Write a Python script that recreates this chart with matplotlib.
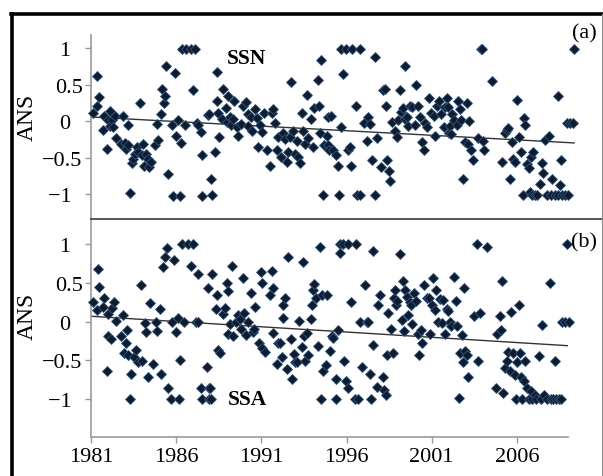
import matplotlib.pyplot as plt
from matplotlib.lines import Line2D

plt.rcParams["font.family"] = ["Liberation Serif", "DejaVu Serif"]

W, H = 603, 477

# --- panel (a): SSN, ANS values ---
year_a = [
    1981.13, 1981.33, 1981.36, 1981.46, 1981.71, 1981.77, 1981.91, 1981.96, 1982.10, 1982.10,
    1982.20, 1982.30, 1982.39, 1982.45, 1982.74, 1982.87, 1982.97, 1983.03, 1983.16, 1983.16,
    1983.26, 1983.36, 1983.45, 1983.55, 1983.65, 1983.74, 1983.84, 1983.93, 1984.03, 1984.09,
    1984.19, 1984.28, 1984.38, 1984.48, 1984.71, 1984.84, 1984.90, 1985.06, 1985.13, 1985.23,
    1985.29, 1985.35, 1985.48, 1985.67, 1985.77, 1985.87, 1985.93, 1986.06, 1986.16, 1986.22,
    1986.25, 1986.45, 1986.50, 1986.80, 1986.93, 1987.03, 1987.12, 1987.22, 1987.37, 1987.41,
    1987.41, 1987.80,
    1987.84, 1987.96, 1988.00, 1988.19, 1988.29, 1988.29, 1988.38, 1988.42, 1988.58, 1988.67,
    1988.81, 1988.87, 1988.96, 1989.06, 1989.12, 1989.25, 1989.31, 1989.45, 1989.50, 1989.70,
    1989.83, 1989.97, 1990.08, 1990.12, 1990.26, 1990.32, 1990.51, 1990.60, 1990.70, 1990.80,
    1990.93, 1991.05, 1991.18, 1991.38, 1991.47, 1991.57, 1991.67, 1991.77, 1991.86, 1992.02,
    1992.15, 1992.25, 1992.34, 1992.44, 1992.54, 1992.60, 1992.69, 1992.83, 1992.92, 1993.02,
    1993.12, 1993.21, 1993.31, 1993.41, 1993.50, 1993.60, 1993.75, 1993.89, 1993.95, 1994.14,
    1994.22, 1994.28, 1994.33, 1994.47, 1994.53, 1994.66, 1994.76,
    1994.72, 1994.80, 1994.92, 1995.05, 1995.21, 1995.34, 1995.38, 1995.50, 1995.50, 1995.63,
    1995.77, 1995.92, 1996.02, 1996.08, 1996.15, 1996.35, 1996.41, 1996.60, 1996.60, 1996.85,
    1997.00, 1997.04, 1997.18, 1997.31, 1997.47, 1997.47, 1997.56, 1997.82, 1997.95, 1998.05,
    1998.09, 1998.15, 1998.28, 1998.34, 1998.43, 1998.63, 1998.72, 1998.78, 1998.92, 1998.98,
    1999.11, 1999.17, 1999.21, 1999.30, 1999.40, 1999.50, 1999.63, 1999.75, 1999.83, 1999.98,
    2000.08, 2000.17, 2000.27, 2000.37, 2000.46, 2000.60, 2000.72, 2000.85, 2000.91, 2001.04,
    2001.18, 2001.30, 2001.43, 2001.53, 2001.62, 2001.72,
    2001.67, 2001.81, 2001.87, 2001.90, 2002.06, 2002.20, 2002.29, 2002.39, 2002.45, 2002.58,
    2002.68, 2002.78, 2002.87, 2002.91, 2003.03, 2003.16, 2003.45, 2003.61, 2003.68, 2003.74,
    2003.80, 2004.23, 2004.84, 2005.00, 2005.10, 2005.19, 2005.29, 2005.38, 2005.48, 2005.58,
    2005.67, 2005.81, 2005.93, 2006.06, 2006.10, 2006.16, 2006.25, 2006.39, 2006.45, 2006.50,
    2006.58, 2006.64, 2006.74, 2006.83, 2007.03, 2007.12, 2007.22, 2007.32, 2007.41, 2007.55,
    2007.66, 2007.70, 2007.90, 2008.05, 2008.09, 2008.19, 2008.24, 2008.28, 2008.48, 2008.63,
    2008.57, 2008.77, 2008.96, 2009.02,
]
ans_a = [
    0.11, 0.20, 0.61, 0.33, -0.12, 0.07, -0.38, 0.02, 0.14, -0.07,
    0.01, -0.08, 0.07, -0.23, -0.32, 0.07, -0.30, -0.39, -0.05, -0.33,
    -0.98, -0.58, -0.52, -0.45, -0.36, -0.42, 0.25, -0.47, -0.31, -0.62,
    -0.45, -0.52, -0.63, -0.56, -0.33, -0.04, -0.26, 0.09, 0.44, 0.24,
    0.34, 0.76, -0.72, -0.05, -1.03, 0.66, -0.21, 0.02, -1.03, -0.30,
    0.99, -0.05, 0.99, 0.99, 0.43, 0.99, -0.03, -0.05, -0.15, -0.47,
    -1.03, 0.08,
    0.09, -0.80, -1.02, -0.43, 0.67, 0.28, 0.11, -0.22, 0.03, 0.44,
    0.18, -0.01, 0.34, 0.055, -0.06, 0.03, 0.28, -0.08, -0.20, -0.04,
    0.21, 0.26, 0.09, -0.07, 0.055, -0.14, 0.16, 0.045, -0.35, -0.05,
    -0.15, 0.11, -0.40, -0.62, 0.11, 0.17, -0.03, -0.40, -0.22, -0.49,
    -0.17, -0.24, -0.56, -0.42, -0.22, 0.54, -0.13, -0.45, -0.27, -0.49,
    -0.58, 0.11, -0.13, -0.31, 0.35, -0.23, 0.03, -0.36, 0.18, 0.56,
    0.21, -0.17, 0.84, -1.02, -0.33, -0.20, 0.055,
    -0.33, -0.40, 0.065, -0.40, -0.46, -0.61, -1.02, 0.99, -0.08, 0.64,
    0.99, -0.40, -0.36, -0.62, 0.99, 0.21, -1.02, -1.02, 0.99, -0.03,
    -0.27, 0.055, -0.04, -0.53, -1.02, 0.87, -0.23, -0.63, 0.42, 0.44,
    0.20, -0.53, -0.68, -0.82, -0.01, -0.13, -0.22, 0.01, 0.42, 0.12,
    0.18, 0.75, 0.03, 0.055, -0.07, 0.20, 0.19, -0.06, 0.49, 0.20,
    0.055, -0.29, -0.40, -0.03, -0.08, 0.31, 0.11, 0.065, -0.20, 0.21,
    0.28, 0.10, -0.08, 0.19, 0.31, -0.17,
    0.19, -0.07, -0.18, 0.10, 0.01, -0.06, 0.28, 0.17, 0.02, -0.80,
    -0.29, 0.24, -0.32, 0.00, -0.40, -0.53, -0.23, 0.99, 0.99, -0.27,
    -0.40, 0.55, -0.56, -0.17, -0.12, -0.10, -0.80, -0.29, -0.52, -0.56,
    0.29, -0.22, -0.42, -1.02, 0.045, -0.06, -0.59, -0.65, -0.97, -0.49,
    -1.02, -0.42, -1.02, -1.02, -0.86, -0.58, -0.71, -0.26, -1.02, -0.20,
    -1.02, -0.80, -1.02, 0.34, -1.02, -0.88, -0.53, -1.02, -1.02, -1.02,
    -0.03, -0.03, -0.03, 0.99,
]
trend_a = [0.055, -0.30]

# --- panel (b): SSA ---
year_b = [
    1981.14, 1981.33, 1981.39, 1981.47, 1981.72, 1981.78, 1981.92, 1981.98, 1982.02, 1982.17,
    1982.25, 1982.37, 1982.45, 1982.76, 1982.86, 1982.96, 1983.05, 1983.09, 1983.19, 1983.29,
    1983.35, 1983.54, 1983.64, 1983.74, 1983.91, 1984.01, 1984.17, 1984.21, 1984.33, 1984.46,
    1984.66, 1984.80, 1984.85, 1985.05, 1985.11, 1985.25, 1985.34, 1985.44, 1985.50, 1985.70,
    1985.77, 1985.89, 1985.97, 1986.12, 1986.16, 1986.22, 1986.32, 1986.48, 1986.71, 1986.87,
    1987.01, 1987.14, 1987.26, 1987.30, 1987.46, 1987.49, 1987.80, 1987.92, 1987.92,
    1987.89, 1987.98, 1988.04, 1988.10, 1988.32, 1988.37, 1988.47, 1988.57, 1988.77, 1988.86,
    1988.96, 1989.02, 1989.06, 1989.16, 1989.25, 1989.35, 1989.49, 1989.61, 1989.74, 1989.80,
    1989.94, 1990.00, 1990.08, 1990.19, 1990.39, 1990.53, 1990.59, 1990.62, 1990.86, 1990.98,
    1991.05, 1991.05, 1991.21, 1991.50, 1991.60, 1991.70, 1991.70, 1991.90, 1992.00, 1992.09,
    1992.19, 1992.29, 1992.29, 1992.38, 1992.48, 1992.54, 1992.74, 1992.81, 1992.93, 1992.97,
    1993.07, 1993.21, 1993.36, 1993.46, 1993.52, 1993.56, 1993.66, 1993.75, 1993.91, 1993.95,
    1994.05, 1994.11, 1994.18, 1994.30, 1994.44, 1994.50, 1994.58, 1994.63, 1994.83, 1994.77,
    1995.02, 1995.12, 1995.22, 1995.36, 1995.41, 1995.47, 1995.61, 1995.61, 1995.81, 1995.86,
    1995.99, 1996.06, 1996.10, 1996.29, 1996.49, 1996.53, 1996.69, 1996.78, 1996.92, 1997.08,
    1997.18, 1997.27, 1997.37, 1997.43, 1997.57, 1997.57, 1997.76, 1997.86, 1997.96, 1998.15,
    1998.21, 1998.29, 1998.35, 1998.45, 1998.60, 1998.74, 1998.80, 1998.84, 1998.88, 1998.99,
    1999.13, 1999.27, 1999.33, 1999.39, 1999.46, 1999.52, 1999.62, 1999.72, 1999.78, 1999.86,
    1999.97, 2000.05, 2000.17, 2000.27, 2000.40, 2000.44, 2000.56, 2000.70, 2000.83, 2000.89,
    2000.99, 2001.09, 2001.19, 2001.28, 2001.38, 2001.48, 2001.58, 2001.67, 2001.77, 2001.87,
    2001.97, 2002.06, 2002.16, 2002.32, 2002.45, 2002.51, 2002.59, 2002.65, 2002.75, 2002.85,
    2002.90, 2002.98, 2003.10, 2003.14, 2003.49, 2003.63, 2003.73, 2003.82, 2004.22, 2004.80,
    2004.86, 2004.99, 2005.06, 2005.13, 2005.19, 2005.29, 2005.39, 2005.49, 2005.58, 2005.64,
    2005.78, 2005.88, 2005.92, 2005.98, 2006.11, 2006.17, 2006.23, 2006.31, 2006.43, 2006.50,
    2006.62, 2006.70, 2006.82, 2006.90, 2007.05, 2007.15, 2007.29, 2007.44, 2007.48, 2007.60,
    2007.74, 2007.93, 2008.00, 2008.13, 2008.26, 2008.32, 2008.46, 2008.58, 2008.62, 2008.81,
    2008.97, 2009.05,
]
ans_b = [
    0.26, 0.15, 0.68, 0.45, 0.19, 0.31, -0.64, 0.10, -0.18, -0.22,
    0.18, 0.26, 0.01, -0.19, 0.09, -0.41, -0.28, -0.11, -0.43, -1.00,
    -0.68, -0.46, -0.37, -0.52, 0.47, -0.51, -0.02, -0.13, -0.71, 0.24,
    -0.55, -0.01, -0.12, 0.17, -0.67, 0.70, 0.84, 0.95, -0.85, -1.00,
    -0.01, 0.80, -0.13, 0.05, -1.00, -0.49, 1.00, -0.01, 1.00, 0.72,
    1.00, -0.01, -0.01, 0.62, -0.85, -1.00, -0.59, -0.85, -1.00,
    0.43, -0.86, -1.00, 0.62, 0.17, 0.34, -0.37, -0.41, 0.10, 0.18,
    0.50, -0.16, 0.40, -0.03, 0.72, -0.19, -0.01, 0.09, 0.04, -0.09,
    0.56, 0.11, -0.17, 0.00, 0.37, -0.13, -0.09, 0.19, -0.28, 0.64,
    -0.34, 0.50, -0.39, 0.34, 0.65, -0.15, 0.43, -0.54, -0.28, -0.27,
    -0.46, 0.05, 0.22, 0.30, -0.61, 0.84, -0.22, -0.74, -0.42, -0.52,
    -0.52, 0.01, -0.33, 0.77, -0.19, -0.51, -0.15, -0.43, 0.03, 0.22,
    0.41, 0.48, 0.30, -0.32, 0.96, -1.00, 0.34, -0.64, 0.34, -0.56,
    -0.38, -0.19, -0.21, -0.74, -1.00, -0.11, 1.00, 0.88, 1.00, -0.51,
    -0.77, -0.86, 1.00, 0.26, -1.00, 1.00, -1.00, -0.01, -0.59, 0.47,
    -0.01, -0.01, -0.67, -1.00, -0.30, 0.91, -0.84, 0.21, 0.35, -0.72,
    -0.88, -0.94, -0.43, 0.11, -0.09, -0.41, 0.31, 0.41, 0.21, 0.27,
    0.87, 0.02, 0.52, -0.12, 0.41, 0.32, 0.08, 0.26, 0.22, -0.03,
    0.37, 0.27, -0.16, -0.43, -0.11, -0.28, 0.47, 0.30, 0.31, -0.16,
    0.22, 0.56, 0.15, 0.41, 0.00, 0.29, -0.02, 0.28, -0.16, 0.16,
    0.14, 0.00, -0.05, 0.58, 0.27, -0.06, -0.99, -0.41, -0.17, -0.52,
    0.43, -0.38, -0.43, -0.71, 0.07, 1.00, -0.51, 0.11, 0.96, -0.86,
    -0.16, 0.07, -0.11, 0.53, -0.92, -0.60, -0.51, -0.39, -0.64, 0.13,
    -0.41, -0.69, -1.00, -0.52, 0.22, -0.41, -0.71, -1.00, -0.77, -0.51,
    -0.86, -1.00, -0.90, -1.00, -0.94, -1.00, -0.44, -1.00, -0.04, -0.94,
    -1.00, 0.50, -1.00, -1.00, -0.51, -1.00, -1.00, -1.00, -0.01, -0.01,
    1.00, -0.01,
]
trend_b = [0.07, -0.31]

trend_years = [1981, 2009]
xticks = [1981, 1986, 1991, 1996, 2001, 2006]
yticks = [-1, -0.5, 0, 0.5, 1]
ytick_labels = ["\u22121\u2007", "\u22120.5", "0\u2007", "0.5", "1\u2007"]

MARK = "#0e1c30"
EDGE = "#34557d"
SPINE = "#9a9a9a"


def style_axis(ax, ylim, xlim):
    ax.set_xlim(*xlim)
    ax.set_ylim(*ylim)
    for side in ["top", "right", "bottom"]:
        ax.spines[side].set_visible(False)
    ax.spines["left"].set_color(SPINE)
    ax.spines["left"].set_linewidth(1.2)
    ax.set_yticks(yticks)
    ax.set_yticklabels(ytick_labels)
    ax.tick_params(axis="y", direction="out", length=4.5, width=1.0, color=SPINE,
                   labelsize=16, pad=1.5)
    ax.patch.set_alpha(0)


def draw_panel(ax, years, ans, trend):
    ax.plot(trend_years, trend, color="#333333", linewidth=1.0, zorder=2)
    ax.plot(years, ans, linestyle="none", marker="D", markersize=5.0,
            markerfacecolor=MARK, markeredgecolor=EDGE, markeredgewidth=0.6,
            clip_on=False, zorder=3)


fig = plt.figure(figsize=(W / 100, H / 100), dpi=100)

ax_a = fig.add_axes([91 / W, 1 - 220 / H, (575 - 91) / W, (220 - 36) / H])
style_axis(ax_a, (-1.342, 1.178), (1981, 2009.05))
ax_a.set_xticks([])
draw_panel(ax_a, year_a, ans_a, trend_a)

ax_b = fig.add_axes([91 / W, 1 - 438 / H, (568 - 91) / W, (438 - 220) / H])
style_axis(ax_b, (-1.488, 1.325), (1981, 2009.0))
ax_b.spines["bottom"].set_visible(True)
ax_b.spines["bottom"].set_color(SPINE)
ax_b.spines["bottom"].set_linewidth(1.2)
ax_b.set_xticks(xticks)
ax_b.set_xticklabels([str(t) for t in xticks])
ax_b.tick_params(axis="x", direction="out", length=4.5, width=1.0, color=SPINE,
                 labelsize=16, pad=2.5)
draw_panel(ax_b, year_b, ans_b, trend_b)

# separator between the panels
fig.add_artist(Line2D([91 / W, 1.0], [1 - 220 / H] * 2, color="#555555", linewidth=1.4))

# outer frame (cut off at bottom)
fig.add_artist(Line2D([11.7 / W, 11.7 / W], [0, 1 - 14.5 / H], color="black", linewidth=2.6))
fig.add_artist(Line2D([10.5 / W, 1.0], [1 - 14.5 / H] * 2, color="black", linewidth=2.6))
fig.add_artist(Line2D([601.5 / W, 601.5 / W], [0, 1 - 14.5 / H], color="#8c8c8c", linewidth=0.8))

# labels
fig.text(27 / W, 1 - 117 / H, "ANS", rotation=90, ha="center", va="center", fontsize=17)
fig.text(27 / W, 1 - 316 / H, "ANS", rotation=90, ha="center", va="center", fontsize=17)
fig.text(247 / W, 1 - 59 / H, "SSN", ha="center", va="center", fontsize=15.5, fontweight="bold")
fig.text(247 / W, 1 - 400 / H, "SSA", ha="center", va="center", fontsize=15.5, fontweight="bold")
fig.text(584 / W, 1 - 34 / H, "(a)", ha="center", va="center", fontsize=16)
fig.text(584 / W, 1 - 243 / H, "(b)", ha="center", va="center", fontsize=16)

fig.savefig("out.png", dpi=100)
